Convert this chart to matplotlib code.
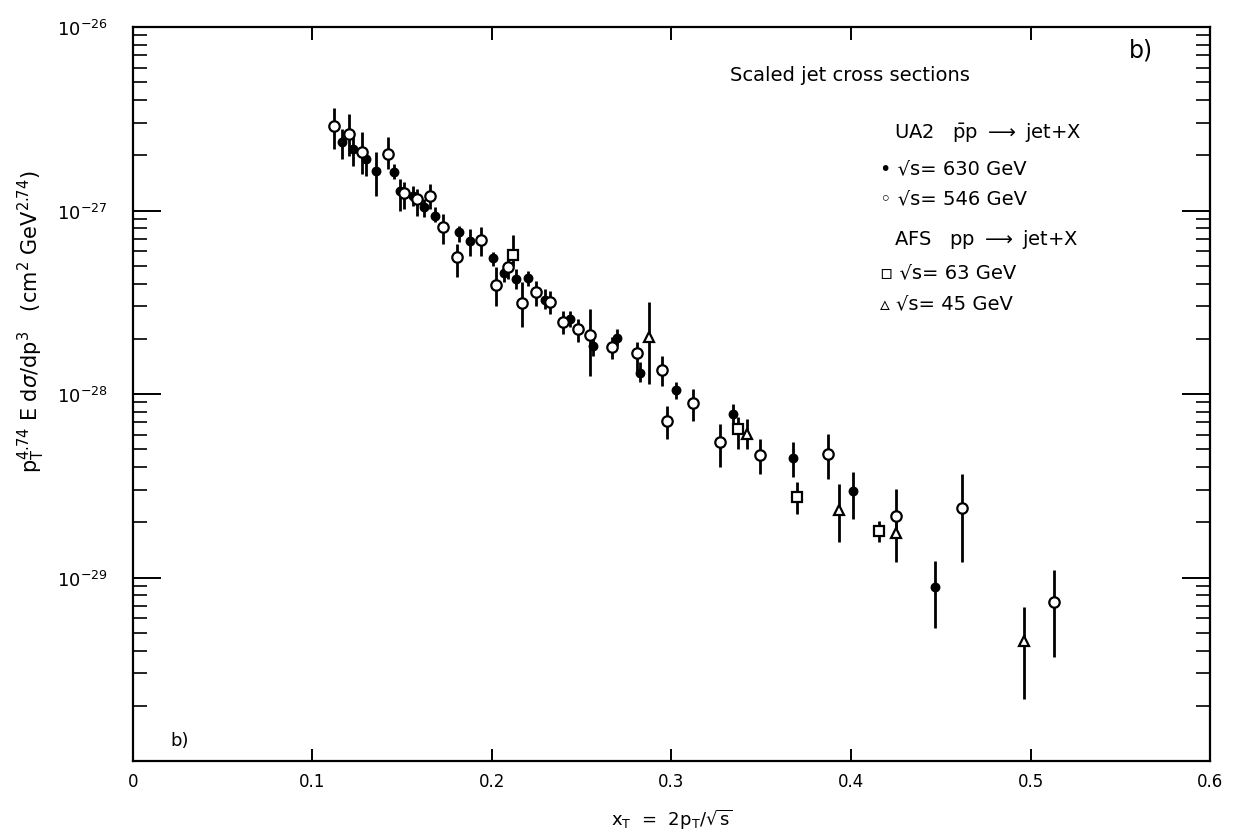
import numpy as np
import matplotlib
matplotlib.use("Agg")
import matplotlib.pyplot as plt
from matplotlib.ticker import LogLocator, NullFormatter

plt.rcParams.update({
    "font.family": "DejaVu Sans",
    "mathtext.fontset": "dejavusans",
    "axes.linewidth": 1.6,
})

UNIT = 1e-27  # all cross sections below are in units of 1e-27

# UA2, sqrt(s) = 630 GeV  (filled circles)
x_630 = [0.1163, 0.1227, 0.1298, 0.1354, 0.1454, 0.1487, 0.1560, 0.1621, 0.1682,
         0.1818, 0.1877, 0.2004, 0.2067, 0.2134, 0.2198, 0.2298, 0.2435, 0.2561,
         0.2695, 0.2825, 0.3023, 0.3341, 0.3679, 0.4009, 0.4468]
y_630 = [2.35, 2.16, 1.91, 1.65, 1.62, 1.28, 1.20, 1.04, 0.937,
         0.766, 0.684, 0.551, 0.455, 0.421, 0.429, 0.327, 0.256, 0.182,
         0.201, 0.131, 0.105, 0.0778, 0.0448, 0.0295, 0.00891]
lo_630 = [1.91, 1.75, 1.54, 1.20, 1.48, 0.994, 1.06, 0.922, 0.866,
          0.674, 0.565, 0.498, 0.408, 0.373, 0.388, 0.290, 0.232, 0.161,
          0.183, 0.116, 0.0939, 0.0661, 0.0353, 0.0208, 0.00531]
hi_630 = [2.78, 2.51, 2.11, 2.08, 1.79, 1.48, 1.36, 1.155, 1.045,
          0.823, 0.793, 0.594, 0.511, 0.480, 0.468, 0.373, 0.283, 0.199,
          0.226, 0.149, 0.116, 0.0882, 0.0547, 0.0376, 0.0123]

# UA2, sqrt(s) = 546 GeV  (open circles)
x_546 = [0.1121, 0.1203, 0.1274, 0.1422, 0.1510, 0.1581, 0.1655, 0.1729, 0.1803,
         0.1939, 0.2022, 0.2089, 0.2170, 0.2245, 0.2323, 0.2394, 0.2481, 0.2546,
         0.2667, 0.2810, 0.2945, 0.2973, 0.3118, 0.3270, 0.3493, 0.3870, 0.4251,
         0.4617, 0.5131]
y_546 = [2.90, 2.61, 2.08, 2.03, 1.25, 1.155, 1.195, 0.816, 0.556,
         0.691, 0.393, 0.495, 0.313, 0.358, 0.317, 0.246, 0.226, 0.210,
         0.181, 0.1667, 0.1357, 0.0715, 0.0890, 0.0551, 0.0467, 0.0471, 0.0217,
         0.0238, 0.00738]
lo_546 = [2.16, 1.98, 1.58, 1.68, 1.02, 0.933, 1.02, 0.657, 0.434,
          0.565, 0.302, 0.423, 0.232, 0.302, 0.273, 0.212, 0.192, 0.125,
          0.155, 0.132, 0.1105, 0.0569, 0.0713, 0.0400, 0.0366, 0.0344, 0.0184,
          0.01215, 0.00369]
hi_546 = [3.62, 3.36, 2.68, 2.51, 1.43, 1.31, 1.395, 0.957, 0.657,
          0.812, 0.492, 0.579, 0.408, 0.413, 0.364, 0.283, 0.256, 0.290,
          0.204, 0.192, 0.161, 0.0860, 0.1064, 0.0686, 0.0569, 0.0605, 0.0304,
          0.0366, 0.0110]

# AFS, sqrt(s) = 63 GeV  (open squares)
x_63 = [0.2117, 0.3369, 0.3697, 0.4158]
y_63 = [0.572, 0.0645, 0.0274, 0.0180]
lo_63 = [0.498, 0.0502, 0.0222, 0.0156]
hi_63 = [0.735, 0.0749, 0.0331, 0.0203]

# AFS, sqrt(s) = 45 GeV  (open triangles)
x_45 = [0.2875, 0.3419, 0.3935, 0.4251, 0.4964]
y_45 = [0.204, 0.0609, 0.0233, 0.0175, 0.00452]
lo_45 = [0.1134, 0.0502, 0.0156, 0.01215, 0.00218]
hi_45 = [0.317, 0.0731, 0.0323, 0.0216, 0.0069]


def draw_set(ax, x, y, lo, hi, marker, face, size):
    y = np.array(y) * UNIT
    lo = np.array(lo) * UNIT
    hi = np.array(hi) * UNIT
    ax.errorbar(x, y, yerr=[y - lo, hi - y], fmt=marker, color="black",
                mfc=face, mec="black", mew=1.6, ms=size,
                elinewidth=2.0, capsize=0, zorder=3)


fig = plt.figure(figsize=(12.53, 8.37), dpi=100, facecolor="white")
ax = fig.add_axes([0.1061, 0.0896, 0.8596, 0.8769])

draw_set(ax, x_630, y_630, lo_630, hi_630, "o", "black", 5.5)
draw_set(ax, x_546, y_546, lo_546, hi_546, "o", "white", 7.5)
draw_set(ax, x_63, y_63, lo_63, hi_63, "s", "white", 6.5)
draw_set(ax, x_45, y_45, lo_45, hi_45, "^", "white", 6.5)

ax.set_yscale("log")
ax.set_xlim(0, 0.6)
ax.set_ylim(1e-30, 1e-26)

ax.set_xticks([0, 0.1, 0.2, 0.3, 0.4, 0.5, 0.6])
ax.set_xticklabels(["0", "0.1", "0.2", "0.3", "0.4", "0.5", "0.6"], fontsize=12)
ax.set_yticks([1e-29, 1e-28, 1e-27, 1e-26])
ax.set_yticklabels([r"$10^{-29}$", r"$10^{-28}$", r"$10^{-27}$", r"$10^{-26}$"],
                   fontsize=13)
ax.yaxis.set_minor_locator(LogLocator(base=10, subs=np.arange(2, 10)))
ax.yaxis.set_minor_formatter(NullFormatter())

ax.tick_params(axis="x", which="major", direction="in", length=9, width=1.4,
               top=True, pad=8)
ax.tick_params(axis="y", which="major", direction="in", length=20, width=1.4,
               right=True, pad=18)
ax.tick_params(axis="y", which="minor", direction="in", length=10, width=1.2,
               right=True)

ax.set_xlabel(r"x$_{\rm T}$  =  2p$_{\rm T}$/$\sqrt{\rm s}$", fontsize=13, labelpad=12)
ax.set_ylabel(r"p$_{\rm T}^{4.74}$ E d$\sigma$/dp$^3$   (cm$^2$ GeV$^{2.74}$)",
              fontsize=15)
ax.yaxis.set_label_coords(-0.08, 0.60)

# annotations
ax.text(0.925, 0.970, "b)", transform=ax.transAxes, fontsize=17, ha="left", va="center")
ax.text(0.035, 0.028, "b)", transform=ax.transAxes, fontsize=13, ha="left", va="center")
ax.text(0.554, 0.935, "Scaled jet cross sections", transform=ax.transAxes,
        fontsize=14, ha="left", va="center")

lx = 0.694
ax.text(lx + 0.013, 0.857, r"UA2   $\bar{\mathrm{p}}$p $\longrightarrow$ jet+X",
        transform=ax.transAxes, fontsize=14, ha="left", va="center")
ax.text(lx, 0.809, "\u2022 \u221as= 630 GeV", transform=ax.transAxes,
        fontsize=14, ha="left", va="center")
ax.text(lx, 0.768, "\u25e6 \u221as= 546 GeV", transform=ax.transAxes,
        fontsize=14, ha="left", va="center")
ax.text(lx + 0.013, 0.712, r"AFS   pp $\longrightarrow$ jet+X",
        transform=ax.transAxes, fontsize=14, ha="left", va="center")
ax.text(lx, 0.666, "\u25ab \u221as= 63 GeV", transform=ax.transAxes,
        fontsize=14, ha="left", va="center")
ax.text(lx, 0.625, "\u25b5 \u221as= 45 GeV", transform=ax.transAxes,
        fontsize=14, ha="left", va="center")

fig.savefig("out.png", dpi=100, facecolor="white")
